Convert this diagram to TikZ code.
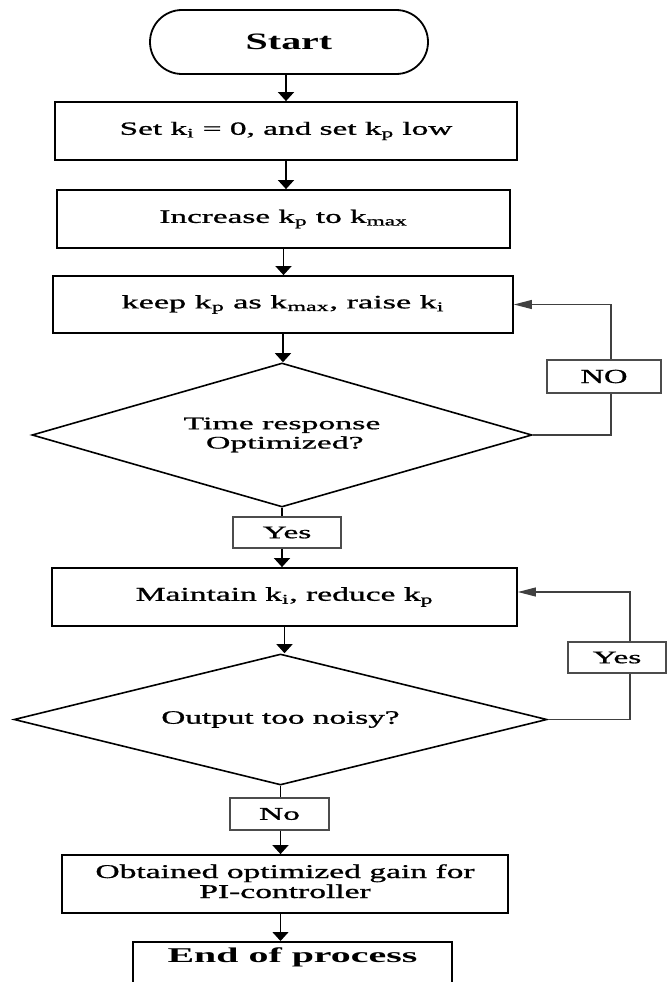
\documentclass[tikz,border=0pt]{standalone}
\usepackage{fontspec}
\setmainfont[UprightFeatures={FakeBold=0.8}]{Liberation Serif}
\usepackage{graphicx}
\usetikzlibrary{shapes.geometric,arrows.meta}
\newcommand{\sx}[2]{\scalebox{#1}[1]{#2}}
\newcommand{\fs}[1]{\fontsize{#1}{#1}\selectfont}
\begin{document}
\begin{tikzpicture}[x=1pt,y=-1pt,
  bx/.style={draw=black, line width=1.8pt, inner sep=0pt, fill=white},
  lab/.style={draw=black!70, line width=1.1pt, inner sep=0pt, fill=white},
  dia/.style={draw=black, diamond, line width=1.6pt, inner sep=0pt},
  darr/.style={line width=1.4pt, -{Triangle[length=9pt,width=16pt]}},
  larr/.style={line width=1.1pt, draw=black!75, -{Triangle[length=18pt,width=9pt]}},
  fb/.style={line width=1.1pt, draw=black!75},
  ln/.style={line width=1.4pt}]
\clip (0,0) rectangle (667,982);
\fill[white] (0,0) rectangle (667,982);

\node[bx, rounded corners=32pt, minimum width=278pt, minimum height=64pt] (start) at (289,42)
  {\sx{1.7}{\fs{23.5}\bfseries Start}};
\node[bx, minimum width=462pt, minimum height=58pt] (b1) at (286,131)
  {\sx{1.79}{\fs{18.6}Set k\textsubscript{i} = 0, and set k\textsubscript{p} low}};
\node[bx, minimum width=453pt, minimum height=58pt] (b2) at (283.5,219)
  {\sx{1.75}{\fs{19}Increase k\textsubscript{p} to k\textsubscript{max}}};
\node[bx, minimum width=460pt, minimum height=57pt] (b3) at (283,304.5)
  {\sx{1.8}{\fs{19}keep k\textsubscript{p} as k\textsubscript{max}, raise k\textsubscript{i}}};
\node[dia, shape aspect=3.47, minimum width=500pt, minimum height=144pt] (d1) at (282,435)
  {\sx{1.92}{\fontsize{17.6}{19.3}\selectfont\begin{tabular}{@{}c@{}}Time response\\ \,Optimized?\end{tabular}}};
\node[lab, minimum width=108pt, minimum height=31pt] (y1) at (287,532.5)
  {\sx{1.9}{\fs{17.6}Yes}};
\node[lab, minimum width=114pt, minimum height=33pt] (no1) at (604,376.5)
  {\sx{1.63}{\fs{20}NO}};
\node[bx, minimum width=465pt, minimum height=58pt] (m) at (284.5,597)
  {\sx{1.72}{\fs{19.5}Maintain k\textsubscript{i}, reduce k\textsubscript{p}}};
\node[dia, shape aspect=4.07, minimum width=533pt, minimum height=131pt] (d2) at (280.5,719.5)
  {\sx{1.75}{\fs{19}Output too noisy?}};
\node[lab, minimum width=98pt, minimum height=31pt] (y2) at (617,657.5)
  {\sx{1.9}{\fs{17.6}Yes}};
\node[lab, minimum width=99pt, minimum height=32pt] (no2) at (279.5,814)
  {\sx{1.86}{\fs{18}No}};
\node[bx, minimum width=446pt, minimum height=58pt] (ob) at (285,884)
  {\sx{1.72}{\fontsize{19.5}{20}\selectfont\begin{tabular}{@{}c@{}}Obtained optimized gain for\\PI-controller\end{tabular}}};
\node[bx, anchor=north, minimum width=319pt, inner ysep=6pt, text depth=30pt] (end) at (292.5,941)
  {\sx{1.9}{\fs{21}\bfseries End of process}};

\draw[darr] (b1.north |- start.south) -- (b1.north);
\draw[darr] (b1.south) -- (b1.south |- b2.north);
\draw[darr] (b2.south) -- (b2.south |- b3.north);
\draw[darr] (b3.south) -- (b3.south |- d1.north);
\draw[ln] (d1.south) -- (d1.south |- y1.north);
\draw[darr] (d1.south |- y1.south) -- (d1.south |- m.north);
\draw[darr] (m.south) -- (m.south |- d2.north);
\draw[ln] (d2.south) -- (d2.south |- no2.north);
\draw[darr] (d2.south |- no2.south) -- (d2.south |- ob.north);
\draw[darr] (d2.south |- ob.south) -- (d2.south |- end.north);

\coordinate (c1) at (611,435);
\draw[fb] (d1.east) -- (c1) -- (c1 |- no1.south);
\draw[larr] (c1 |- no1.north) |- (b3.east);
\coordinate (c2) at (630,719.5);
\draw[fb] (d2.east) -- (c2) -- (c2 |- y2.south);
\draw[larr] (c2 |- y2.north) |- ([yshift=5pt]m.east);
\end{tikzpicture}
\end{document}
